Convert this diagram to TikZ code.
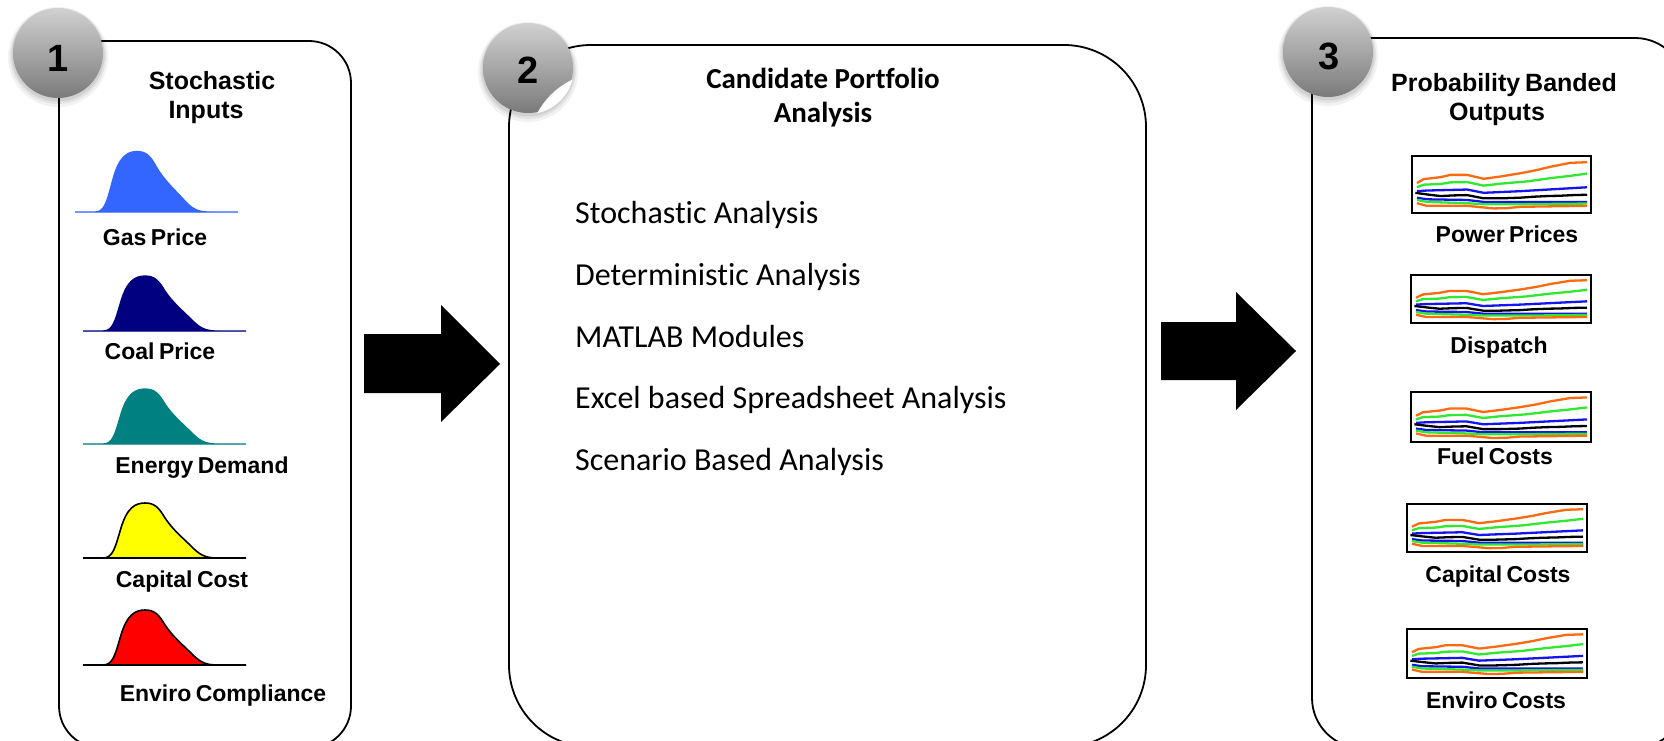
\documentclass[tikz,border=0pt]{standalone}
\usepackage{fontspec}
\setmainfont[WordSpace=0.7]{Liberation Sans}
\newfontfamily\calfont[Ligatures=NoCommon]{Carlito}
\usetikzlibrary{calc}
\definecolor{gasblue}{HTML}{3366FF}
\definecolor{coalnavy}{HTML}{000080}
\definecolor{demteal}{HTML}{008080}
\definecolor{capyellow}{HTML}{FFFF00}
\definecolor{envred}{HTML}{FF0000}
\definecolor{bandorange}{HTML}{FF6A10}
\definecolor{bandgreen}{HTML}{30E830}
\definecolor{bandblue}{HTML}{1414F0}
\tikzset{
  bell/.pic={
    \path[pic actions] (0,0) -- (20,0) .. controls (30,0) and (32,-10) .. (38,-30) .. controls (44,-50) and (52,-55) .. (62,-55) .. controls (72,-55) and (76,-50) .. (82,-40) .. controls (90,-28) and (100,-20) .. (110,-10) .. controls (118,-2) and (124,0) .. (135,0) -- (163,0) -- cycle;
  },
  chart/.pic={
    \draw[line width=2.2pt, fill=white] (0,0) rectangle (537,175);
    \begin{scope}[line width=2.3pt, line join=round]
    \draw[bandorange] (15,83) -- (35,71) -- (85,65) -- (115,58) -- (165,58) -- (215,70) -- (265,63) -- (325,53) -- (375,43) -- (415,33) -- (475,21) -- (525,19);
    \draw[bandgreen] (15,96) -- (35,88) -- (85,86) -- (115,81) -- (165,80) -- (215,91) -- (265,85) -- (345,78) -- (415,68) -- (475,61) -- (525,54);
    \draw[bandblue] (15,108) -- (45,106) -- (165,103) -- (215,113) -- (325,108) -- (525,96);
    \draw[bandblue] (15,128) -- (45,133) -- (165,135) -- (215,141) -- (525,141);
    \draw[bandgreen] (15,135) -- (45,141) -- (165,145) -- (215,148) -- (325,148) -- (525,146);
    \draw[bandorange] (15,145) -- (45,153) -- (165,153) -- (245,161) -- (285,160) -- (325,156) -- (525,153);
    \draw[black] plot[mark=|, mark size=2pt, mark options={line width=1.2pt}] coordinates {(10,113) (45,118) (85,123) (125,121) (165,120) (215,130) (265,130) (295,129) (325,128) (365,125) (405,123) (445,122) (485,120) (525,119)};
    \end{scope}
  },
  panel/.style={draw=black, line width=1.8pt, fill=white},
  ttl/.style={inner sep=0pt, anchor=base, font=\fontsize{25}{29}\selectfont\bfseries},
  lab/.style={inner sep=0pt, anchor=base, font=\fontsize{23}{27}\selectfont\bfseries},
  ctitle/.style={inner sep=0pt, anchor=base, font=\calfont\fontsize{29}{34}\selectfont\bfseries},
  item/.style={inner sep=0pt, anchor=base west, font=\calfont\fontsize{32}{38}\selectfont},
  numball/.style={circle, inner sep=0pt, minimum size=90pt, top color=black!18, bottom color=black!52, draw=none},
  numtxt/.style={inner sep=0pt, font=\fontsize{38}{40}\selectfont\bfseries},
}
\begin{document}
\begin{tikzpicture}[x=1pt,y=-1pt]
\useasboundingbox (0,0) rectangle (1664,741);
\clip (0,0) rectangle (1664,741);
\fill[white] (0,0) rectangle (1664,741);

% panels
\draw[panel, rounded corners=42pt] (59,41) rectangle (351,748);
\draw[panel, rounded corners=82pt] (509,45) rectangle (1146,747);
\draw[panel, rounded corners=50pt] (1312,38) rectangle (1685,748);

% big arrows
\fill[black] (364,334) -- (441,334) -- (441,305) -- (500,364) -- (441,422) -- (441,393) -- (364,393) -- cycle;
\fill[black] (1161,322) -- (1236,322) -- (1236,292) -- (1296,351) -- (1236,410) -- (1236,380) -- (1161,380) -- cycle;

% number balls with soft shadow
\foreach \cx/\cy in {58/53, 528/68, 1328/52} {
  \fill[black, opacity=0.05] (\cx,\cy+4) circle (50);
  \fill[black, opacity=0.06] (\cx,\cy+3) circle (48);
  \fill[black, opacity=0.08] (\cx,\cy+2) circle (46.5);
}
\node[numball] (c1) at (58,53) {};
\node[numball] (c2) at (528,68) {};
\node[numball] (c3) at (1328,52) {};
\begin{scope}
  \clip (528,68) circle (46);
  \fill[white] (606,150) circle (78);
\end{scope}
\node[numtxt] (n1) at (58,58.5) {1};
\node[numtxt] (n2) at (528,70) {2};
\node[numtxt] (n3) at (1329,56.5) {3};

% panel 1
\node[ttl] (t1a) at (212,90) {Stochastic};
\node[ttl] (t1b) at (206,118) {Inputs};
\pic[fill=gasblue, draw=gasblue, line width=1.3pt, yscale=1.1] (gas) at (75,212) {bell};
\pic[fill=coalnavy, draw=coalnavy, line width=1.3pt] (coal) at (83,331) {bell};
\pic[fill=demteal, draw=demteal, line width=1.3pt] (dem) at (83,444) {bell};
\pic[fill=capyellow, draw=black, line width=1.6pt] (cap) at (83,558) {bell};
\pic[fill=envred, draw=black, line width=1.6pt] (env) at (83,665) {bell};
\node[lab] (l1) at (155,245) {Gas Price};
\node[lab] (l2) at (160,359) {Coal Price};
\node[lab] (l3) at (202,473) {Energy Demand};
\node[lab] (l4) at (182,587) {Capital Cost};
\node[lab] (l5) at (223,701) {Enviro Compliance};

% panel 2
\node[ctitle] (t2a) at (823,89) {Candidate Portfolio};
\node[ctitle] (t2b) at (823,123) {Analysis};
\node[item] (i1) at (575,223) {Stochastic Analysis};
\node[item] (i2) at (575,285) {Deterministic Analysis};
\node[item] (i3) at (575,347) {MATLAB Modules};
\node[item] (i4) at (575,408) {Excel based Spreadsheet Analysis};
\node[item] (i5) at (575,470) {Scenario Based Analysis};

% panel 3
\node[ttl] (t3a) at (1504,92) {Probability Banded};
\node[ttl] (t3b) at (1497,121) {Outputs};
\pic[xscale=179/537, yscale=57/175] (g1) at (1412,156) {chart};
\pic[xscale=180/537, yscale=48/175] (g2) at (1411,275) {chart};
\pic[xscale=180/537, yscale=50/175] (g3) at (1411,392) {chart};
\pic[xscale=180/537, yscale=48/175] (g4) at (1407,504) {chart};
\pic[xscale=180/537, yscale=49/175] (g5) at (1407,629) {chart};
\node[lab] (o1) at (1507,242) {Power Prices};
\node[lab] (o2) at (1499,353) {Dispatch};
\node[lab] (o3) at (1495,464) {Fuel Costs};
\node[lab] (o4) at (1498,582) {Capital Costs};
\node[lab] (o5) at (1496,708) {Enviro Costs};
\end{tikzpicture}
\end{document}
